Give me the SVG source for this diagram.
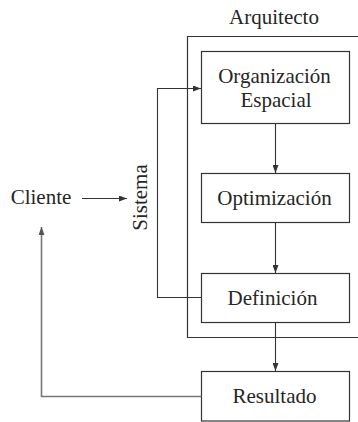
<svg xmlns="http://www.w3.org/2000/svg" width="358" height="422" viewBox="0 0 358 422">
  <style>
    .box { fill: #ffffff; stroke: #333333; stroke-width: 1.2; }
    .frame { fill: none; stroke: #333333; stroke-width: 1.2; }
    .link { fill: none; stroke: #333333; stroke-width: 1.1; }
    .back { fill: none; stroke: #777777; stroke-width: 1.6; }
    .lbl { font-family: 'Liberation Serif', serif; font-size: 21px; fill: #262626; text-anchor: middle; }
  </style>
  <defs>
    <marker id="tip" viewBox="0 0 8 6" refX="8" refY="3" markerWidth="8" markerHeight="6" markerUnits="userSpaceOnUse" orient="auto">
      <path d="M0,0 L8,3 L0,6 Z" fill="#333333"/>
    </marker>
    <marker id="tipGrey" viewBox="0 0 8 6" refX="8" refY="3" markerWidth="8" markerHeight="6" markerUnits="userSpaceOnUse" orient="auto">
      <path d="M0,0 L8,3 L0,6 Z" fill="#555555"/>
    </marker>
  </defs>

  <rect width="358" height="422" fill="#ffffff"/>

  <!-- Architect frame, open to the right -->
  <g id="arquitecto">
    <path class="frame" d="M360,36.5 H187.5 V337.5 H360"/>
    <text class="lbl" font-family="Liberation Serif" x="274" y="24">Arquitecto</text>
  </g>

  <g id="cliente">
    <text class="lbl" font-family="Liberation Serif" x="41" y="204">Cliente</text>
  </g>

  <g id="sistema">
    <text class="lbl" font-family="Liberation Serif" transform="translate(147,197.5) rotate(-90)" x="0" y="0">Sistema</text>
  </g>

  <g id="organizacion">
    <rect class="box" x="201.5" y="51.5" width="148" height="72"/>
    <text class="lbl" font-family="Liberation Serif" x="274.5" y="82.5">Organizaci&#243;n</text>
    <text class="lbl" font-family="Liberation Serif" x="276" y="106.5">Espacial</text>
  </g>

  <g id="optimizacion">
    <rect class="box" x="201.5" y="173.5" width="148" height="49"/>
    <text class="lbl" font-family="Liberation Serif" x="274.5" y="205">Optimizaci&#243;n</text>
  </g>

  <g id="definicion">
    <rect class="box" x="201.5" y="273.5" width="148" height="49"/>
    <text class="lbl" font-family="Liberation Serif" x="272.5" y="305">Definici&#243;n</text>
  </g>

  <g id="resultado">
    <rect class="box" x="201.5" y="371.5" width="148" height="49.5"/>
    <text class="lbl" font-family="Liberation Serif" x="274.5" y="403">Resultado</text>
  </g>

  <g id="connectors">
    <line class="link" x1="82" y1="198.5" x2="127" y2="198.5" marker-end="url(#tip)"/>
    <line class="link" x1="275.5" y1="123.5" x2="275.5" y2="173" marker-end="url(#tip)"/>
    <line class="link" x1="275.5" y1="222.5" x2="275.5" y2="273" marker-end="url(#tip)"/>
    <line class="link" x1="275.5" y1="322.5" x2="275.5" y2="371" marker-end="url(#tip)"/>
    <!-- loop from the definition stage back to the first stage -->
    <path class="link" d="M201.5,297.5 H157.5 V88.5 H201" marker-end="url(#tip)"/>
    <!-- return from the result back to the client -->
    <path class="back" d="M201.5,396.5 H41.5 V227" marker-end="url(#tipGrey)"/>
  </g>
</svg>
